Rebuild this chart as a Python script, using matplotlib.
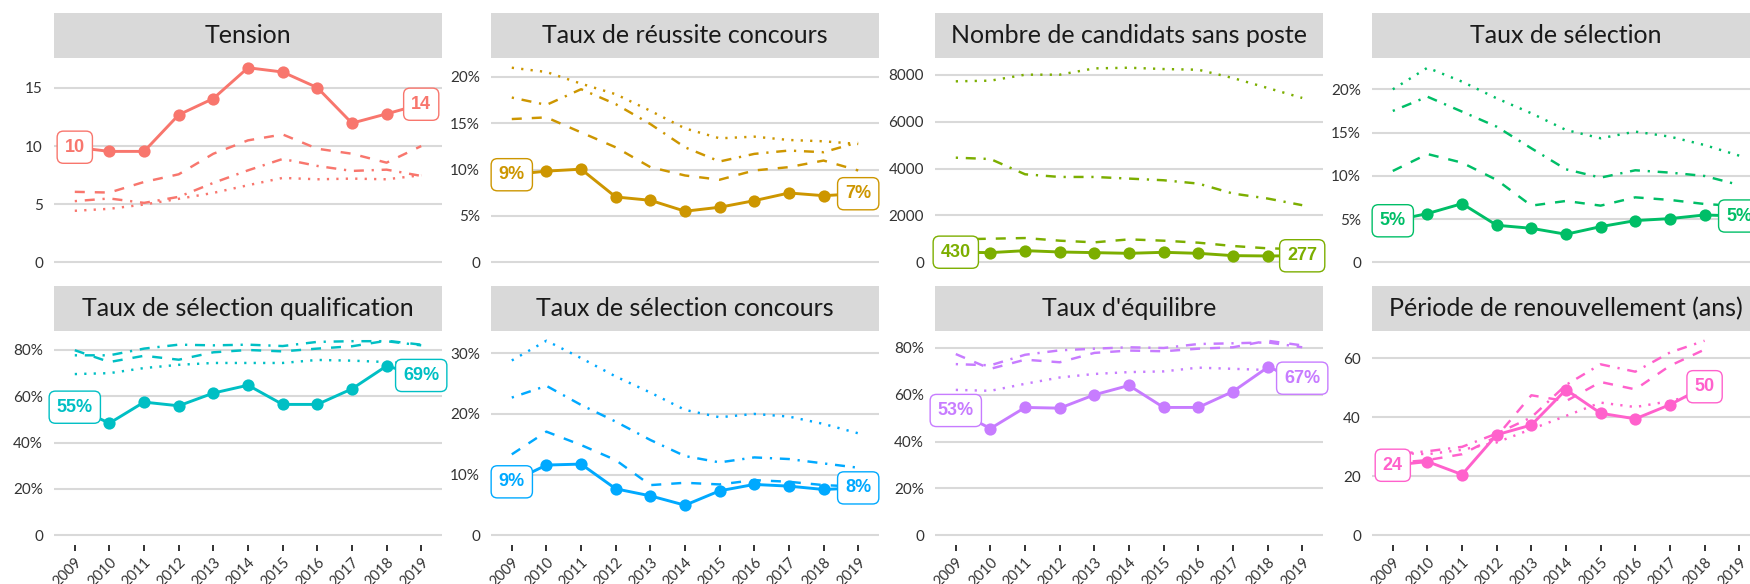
import numpy as np
import matplotlib
matplotlib.use("Agg")
import matplotlib.pyplot as plt
from matplotlib.ticker import MultipleLocator, FuncFormatter

plt.rcParams["lines.scale_dashes"] = False

years = list(range(2009, 2020))
nan = np.nan

# Tension
tension_solid = [9.9, 9.54, 9.54, 12.69, 14.09, 16.74, 16.37, 15.03, 11.97, 12.77, 13.6]
tension_dashed = [6.06, 6.0, 6.91, 7.57, 9.34, 10.49, 11.0, 9.77, 9.34, 8.57, 10.0]
tension_dotdash = [5.26, 5.49, 5.11, 5.63, 6.83, 7.91, 8.89, 8.29, 7.86, 7.97, 7.43]
tension_dotted = [4.43, 4.6, 4.97, 5.46, 5.97, 6.63, 7.26, 7.14, 7.2, 7.14, 7.49]

# Taux de réussite concours (%)
reussite_solid = [9.45, 9.84, 10.05, 7.05, 6.69, 5.51, 5.94, 6.65, 7.48, 7.19, 7.4]
reussite_dashed = [15.46, 15.64, 14.02, 12.41, 10.27, 9.37, 8.91, 9.91, 10.27, 10.98, 9.91]
reussite_dotdash = [17.78, 16.99, 18.68, 17.07, 14.92, 12.41, 10.88, 11.7, 12.06, 11.88, 12.95]
reussite_dotted = [21.0, 20.54, 19.28, 18.14, 16.35, 14.45, 13.38, 13.56, 13.2, 13.06, 12.77]

# Nombre de candidats sans poste
candidats_solid = [430, 411, 496, 439, 411, 382, 425, 382, 283, 269, 277]
candidats_dashed = [977, 1006, 1034, 921, 850, 977, 921, 836, 694, 595, 560]
candidats_dotdash = [4462, 4405, 3754, 3640, 3640, 3570, 3499, 3357, 2932, 2720, 2436]
candidats_dotted = [7720, 7748, 8003, 8003, 8272, 8300, 8244, 8215, 7861, 7436, 7011]

# Taux de sélection (%)
selection_solid = [4.8, 5.63, 6.78, 4.28, 3.93, 3.24, 4.12, 4.82, 5.05, 5.47, 5.35]
selection_dashed = [10.56, 12.52, 11.52, 9.52, 6.55, 7.09, 6.55, 7.51, 7.21, 6.74, 6.5]
selection_dotdash = [17.5, 19.15, 17.42, 15.68, 13.18, 10.75, 9.79, 10.64, 10.37, 9.98, 8.94]
selection_dotted = [20.0, 22.5, 20.89, 18.96, 17.23, 15.3, 14.34, 15.11, 14.53, 13.56, 12.33]

# Taux de sélection qualification (%)
qualif_solid = [55.3, 48.4, 57.5, 55.9, 61.4, 64.8, 56.5, 56.5, 63.2, 73.1, 69.0]
qualif_dashed = [79.9, 74.8, 77.5, 75.8, 79.0, 80.0, 79.4, 80.6, 81.6, 84.0, 82.3]
qualif_dotdash = [77.7, 77.7, 80.6, 82.3, 82.0, 82.3, 81.7, 83.5, 83.8, 83.8, 82.0]
qualif_dotted = [69.6, 70.0, 72.2, 73.6, 74.4, 74.4, 74.4, 75.7, 75.4, 74.8, 74.0]

# Taux de sélection concours (%)
concours_solid = [8.8, 11.56, 11.72, 7.65, 6.49, 4.95, 7.32, 8.37, 8.09, 7.54, 7.8]
concours_dashed = [13.32, 17.06, 14.86, 12.38, 8.26, 8.64, 8.37, 9.08, 8.81, 8.26, 8.0]
concours_dotdash = [22.67, 24.6, 21.46, 18.71, 15.69, 13.04, 12.0, 12.82, 12.55, 11.83, 11.12]
concours_dotted = [28.78, 32.03, 29.17, 26.14, 23.5, 20.64, 19.43, 19.98, 19.54, 18.33, 16.79]

# Taux d'équilibre (%)
equilibre_solid = [53.3, 45.6, 54.6, 54.3, 60.0, 64.0, 54.6, 54.6, 61.4, 71.7, 67.1]
equilibre_dashed = [77.4, 71.1, 75.0, 73.9, 77.9, 78.9, 78.6, 79.7, 80.3, 83.1, 81.1]
equilibre_dotdash = [73.1, 72.6, 77.1, 79.0, 79.7, 80.3, 80.0, 81.7, 82.0, 82.4, 80.3]
equilibre_dotted = [62.1, 61.7, 64.7, 67.4, 68.9, 69.7, 70.0, 71.6, 71.1, 70.6, 70.0]

# Période de renouvellement (ans)
periode_solid = [23.75, 25.0, 20.6, 34.1, 37.4, 49.4, 41.4, 39.5, 44.3, 50.4, nan]
periode_dashed = [24.5, 25.5, 27.5, 33.5, 47.5, 45.5, 52.0, 49.5, 57.5, 63.0, nan]
periode_dotdash = [27.5, 28.5, 30.0, 34.5, 40.0, 51.0, 58.0, 55.5, 62.0, 66.0, nan]
periode_dotted = [28.0, 27.5, 29.0, 31.5, 36.0, 40.5, 45.0, 43.5, 45.5, 48.5, nan]

titles = ["Tension", "Taux de réussite concours", "Nombre de candidats sans poste",
          "Taux de sélection", "Taux de sélection qualification",
          "Taux de sélection concours", "Taux d'équilibre",
          "Période de renouvellement (ans)"]
colors = ["#F8766D", "#CD9600", "#7CAE00", "#00BE67",
          "#00BFC4", "#00A9FF", "#C77CFF", "#FF61CC"]
is_percent = [False, True, False, True, True, True, True, False]
tick_steps = [5, 5, 2000, 5, 20, 10, 20, 20]
series = [
    (tension_solid, tension_dashed, tension_dotdash, tension_dotted),
    (reussite_solid, reussite_dashed, reussite_dotdash, reussite_dotted),
    (candidats_solid, candidats_dashed, candidats_dotdash, candidats_dotted),
    (selection_solid, selection_dashed, selection_dotdash, selection_dotted),
    (qualif_solid, qualif_dashed, qualif_dotdash, qualif_dotted),
    (concours_solid, concours_dashed, concours_dotdash, concours_dotted),
    (equilibre_solid, equilibre_dashed, equilibre_dotdash, equilibre_dotted),
    (periode_solid, periode_dashed, periode_dotdash, periode_dotted),
]

W, H = 1750, 584
fig = plt.figure(figsize=(W / 100, H / 100), dpi=100)
fig.patch.set_facecolor("white")


def rect(left, top, width, height):
    return [left / W, 1 - (top + height) / H, width / W, height / H]


col_left = [54, 491, 935, 1372]
panel_w = 388
rows = [(13, 58, 272), (286, 331, 545)]  # strip top, panel top, panel bottom

dash_styles = [(0, (7.2, 7.2)), (0, (1.6, 5.6, 7.2, 5.6)), (0, (1.6, 5.2))]
grid_col = "#D9D9D9"
text_col = "#333333"

for i in range(8):
    r, c = divmod(i, 4)
    strip_top, p_top, p_bot = rows[r]
    left = col_left[c]

    sax = fig.add_axes(rect(left, strip_top, panel_w, p_top - strip_top))
    sax.set_facecolor(grid_col)
    sax.set_xticks([])
    sax.set_yticks([])
    for s in sax.spines.values():
        s.set_visible(False)
    sax.text(0.5, 0.5, titles[i], transform=sax.transAxes, ha="center",
             va="center", fontsize=18, family="Lato", fontweight="normal",
             color="#1A1A1A", clip_on=False)

    ax = fig.add_axes(rect(left, p_top, panel_w, p_bot - p_top))
    col = colors[i]
    solid, dashed, dotdash, dotted = series[i]
    for vals, ls in zip((dashed, dotdash, dotted), dash_styles):
        ax.plot(years, vals, color=col, lw=1.75, linestyle=ls,
                solid_capstyle="butt", dash_capstyle="butt", zorder=2)
    ax.plot(years, solid, color=col, lw=2.1, marker="o", ms=8.8,
            markeredgewidth=0, zorder=3)

    # labels on first and last available values
    sol = np.array(solid, dtype=float)
    idx = np.where(~np.isnan(sol))[0]
    for k in (idx[0], idx[-1]):
        v = sol[k]
        txt = f"{round(v)}%" if is_percent[i] else f"{round(v)}"
        ax.text(years[k], v, txt, ha="center", va="center", fontsize=13,
                fontweight="bold", family="Liberation Sans", color=col,
                zorder=5, clip_on=False,
                bbox=dict(boxstyle="round,pad=0.42,rounding_size=0.35",
                          fc="white", ec=col, lw=1.0))

    allv = np.concatenate([np.array(s, dtype=float) for s in series[i]])
    ymax = np.nanmax(allv)
    ax.set_ylim(-0.05 * ymax, 1.05 * ymax)
    ax.set_xlim(2009 - 0.6, 2019 + 0.6)
    ax.yaxis.set_major_locator(MultipleLocator(tick_steps[i]))
    if is_percent[i]:
        ax.yaxis.set_major_formatter(FuncFormatter(
            lambda v, p: "0" if abs(v) < 1e-9 else f"{v:.0f}%"))
    else:
        ax.yaxis.set_major_formatter(FuncFormatter(
            lambda v, p: "0" if abs(v) < 1e-9 else f"{v:.0f}"))
    ax.yaxis.grid(True, color=grid_col, lw=1.5)
    ax.xaxis.grid(False)
    ax.set_axisbelow(True)
    for s in ax.spines.values():
        s.set_visible(False)
    ax.tick_params(axis="y", length=0, pad=8, labelsize=11, labelcolor=text_col)
    for lab in ax.get_yticklabels():
        lab.set_family("Lato")
    ax.set_xticks(years)
    if r == 1:
        ax.set_xticklabels([str(y) for y in years], rotation=45, ha="right",
                           rotation_mode="anchor", fontsize=10.5, family="Lato",
                           color=text_col)
        ax.tick_params(axis="x", length=4.5, width=1.4, color=text_col, pad=3)
    else:
        ax.tick_params(axis="x", length=0, labelbottom=False)

fig.savefig("out.png", dpi=100, facecolor="white")
